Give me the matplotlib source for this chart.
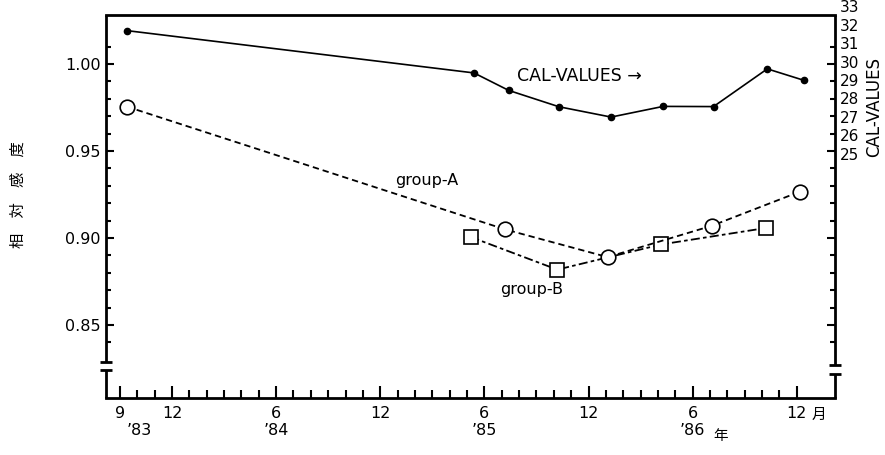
''' Relative sensitivity of group-A / group-B with CAL-VALUES, Sep '83 - Dec '86 '''
import matplotlib
matplotlib.use('Agg')
import matplotlib.pyplot as plt
import matplotlib.transforms as mtransforms
from matplotlib.ticker import FixedLocator

plt.rcParams['font.family'] = ['DejaVu Sans']

# x in months counted from Sep '83
cal_months = [0.4, 20.4, 22.4, 25.3, 28.3, 31.3, 34.2, 37.3, 39.4]
cal_values = [31.77, 29.47, 28.52, 27.63, 27.07, 27.65, 27.64, 29.69, 29.07]

group_a_months = [0.4, 22.2, 28.1, 34.1, 39.2]
group_a_values = [0.9755, 0.9049, 0.889, 0.907, 0.9267]

group_b_months = [20.2, 25.2, 31.2, 37.2]
group_b_values = [0.9006, 0.8818, 0.8963, 0.9057]

tick_months = [0, 3, 9, 15, 21, 27, 33, 39]
tick_labels = ['9', '12', '6', '12', '6', '12', '6', '12']
year_labels = ['’83', '’84', '’85', '’86']
year_months = [0, 9, 21, 33]

rel_ticks = [0.85, 0.90, 0.95, 1.00]
cal_ticks = [25, 26, 27, 28, 29, 30, 31, 32, 33]

fig = plt.figure(figsize=(8.85, 4.55), dpi=100)
ax = fig.add_axes([0.1198, 0.1253, 0.8237, 0.8418])
ax.set_xlim(-0.8, 41.2)
ax.set_ylim(0.808, 1.0282)

ax2 = ax.twinx()
ax2.set_ylim(11.80, 32.62)
ax2.set_yticks([])
for s in ax2.spines.values():
    s.set_visible(False)

# data
ax.plot(group_a_months, group_a_values, color='k', lw=1.3, ls=(0, (3.5, 2.2)),
        marker='o', ms=10.5, mfc='white', mec='k', mew=1.2, zorder=3)
ax.plot(group_b_months, group_b_values, color='k', lw=1.3, ls=(0, (5, 1.8, 2, 1.8)),
        marker='s', ms=10.5, mfc='white', mec='k', mew=1.2, zorder=2)
ax2.plot(cal_months, cal_values, color='k', lw=1.2, marker='o', ms=4.5,
         mfc='k', mec='k', zorder=3)

ax.text(22.9, 0.9934, 'CAL-VALUES →', fontsize=12.5, ha='left', va='center')
ax.text(17.7, 0.933, 'group-A', fontsize=11.5, ha='center', va='center')
ax.text(23.7, 0.8706, 'group-B', fontsize=11.5, ha='center', va='center')

# axes frame: thick top / bottom, left and right spines broken
for side in ('left', 'right'):
    ax.spines[side].set_visible(False)
for side in ('top', 'bottom'):
    ax.spines[side].set_linewidth(2)

ylo, yhi = ax.get_ylim()
breaks = {0: (0.8241, 0.8287), 1: (0.8218, 0.8270)}
tr = mtransforms.blended_transform_factory(ax.transAxes, ax.transData)
for xa, (b_lo, b_hi) in breaks.items():
    ax.plot([xa, xa], [ylo, b_lo], color='k', lw=2, transform=tr, clip_on=False,
            solid_capstyle='butt')
    ax.plot([xa, xa], [b_hi, yhi], color='k', lw=2, transform=tr, clip_on=False,
            solid_capstyle='butt')
    ax.plot([xa, xa], [b_lo, b_hi], ls='none', marker='_', ms=8, mew=2,
            color='k', transform=tr, clip_on=False)

# ticks
ax.set_yticks(rel_ticks)
ax.set_yticklabels([f'{v:.2f}' for v in rel_ticks], fontsize=11.5)
ax.yaxis.set_minor_locator(FixedLocator([0.84 + 0.01 * i for i in range(18)]))
ax.tick_params(axis='y', which='both', direction='in', left=True, right=True, width=1.5, pad=4)
ax.tick_params(axis='y', which='major', length=6)
ax.tick_params(axis='y', which='minor', length=3.5)

ax.set_xticks(tick_months)
ax.set_xticklabels(tick_labels, fontsize=11.5)
ax.xaxis.set_minor_locator(FixedLocator(list(range(0, 40))))
ax.tick_params(axis='x', which='both', direction='in', width=1.5, top=False, pad=6)
ax.tick_params(axis='x', which='major', length=9)
ax.tick_params(axis='x', which='minor', length=5.5)

# year labels under the month labels
trx = mtransforms.blended_transform_factory(ax.transData, ax.transAxes)
for m, lab in zip(year_months, year_labels):
    dx = 1.1 if m == 0 else 0
    ax.text(m + dx, -0.085, lab, transform=trx, fontsize=11.5, ha='center', va='center')
ax.text(34.6, -0.10, '年', transform=trx, fontsize=10.5, ha='center', va='center',
        family=['Noto Sans CJK JP'])
ax.text(40.3, -0.045, '月', transform=trx, fontsize=10.5, ha='center', va='center',
        family=['Noto Sans CJK JP'])

# CAL-VALUES scale printed next to the right spine
tr2 = mtransforms.blended_transform_factory(ax2.transAxes, ax2.transData)
for v in cal_ticks:
    ax2.text(1.007, v, str(v), transform=tr2, fontsize=11, ha='left', va='center',
             clip_on=False)
fig.text(874 / 885, 1 - 107 / 455, 'CAL-VALUES', rotation=90, fontsize=12,
         ha='center', va='center')

fig.text(18 / 885, 1 - 195 / 455, '相　対　感　度', rotation=90, fontsize=11,
         ha='center', va='center', family=['Noto Sans CJK JP'])

fig.savefig('out.png', dpi=100)
